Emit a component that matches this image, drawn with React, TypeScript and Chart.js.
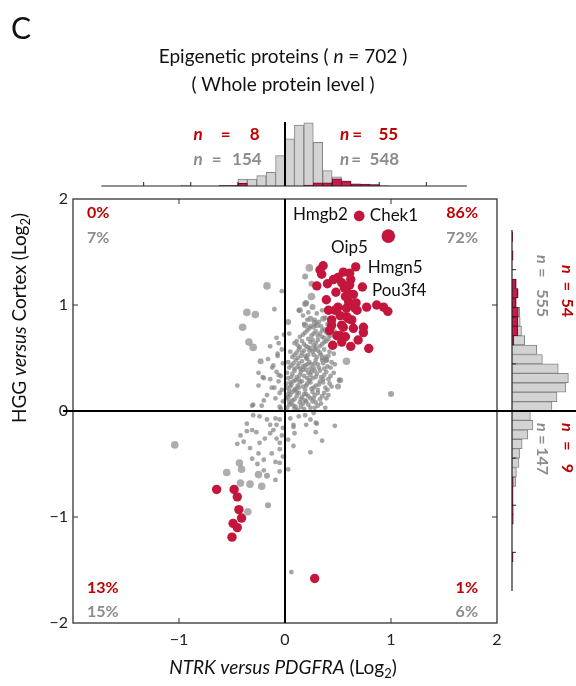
import React, { useEffect, useRef } from 'react';
import { Chart, registerables } from 'chart.js';
Chart.register(...registerables);

const FONT = 'Lato, "Open Sans", "DejaVu Sans", sans-serif';
const RED = '#c4153c';
const RED_TEXT = '#c00000';
const GRAY_TEXT = '#8c8c8c';
const GRAY_PT = 'rgba(128,128,128,0.7)';

// ---- axis ----
const axisMin = -2;
const axisMax = 2;

// ---- scatter data (log2 ratios) ----
const redUpper: [number, number][] = [
  [0.36, 1.37], [0.667, 1.36], [0.346, 1.29], [0.55, 1.31], [0.5, 1.26], [0.456, 1.24], [0.62, 1.24],
  [0.535, 1.21], [0.61, 1.19], [0.3, 1.18], [0.73, 1.17], [0.57, 1.08], [0.645, 1.1], [0.39, 1.05],
  [0.6, 1.03], [0.865, 1.0], [0.93, 0.98], [0.97, 0.94], [0.77, 0.98], [0.66, 0.97], [0.5, 0.98],
  [0.41, 0.95], [0.58, 0.89], [0.63, 0.86], [0.44, 0.81], [0.535, 0.81], [0.645, 0.78], [0.74, 0.74],
  [0.49, 0.71], [0.57, 0.7], [0.535, 0.65], [0.62, 0.61], [0.79, 0.59], [0.61, 1.3], [0.6, 1.11],
  [0.58, 0.97], [0.47, 0.95], [0.68, 0.95], [0.44, 0.86], [0.6, 0.87], [0.55, 0.79], [0.74, 0.79],
  [0.42, 0.76], [0.52, 0.71], [0.48, 1.12], [0.67, 1.02], [0.52, 0.9], [0.69, 0.67], [0.45, 0.62],
  [0.4, 1.2], [0.33, 1.33], [0.56, 1.16],
];
const redLower: [number, number][] = [
  [-0.645, -0.74], [-0.48, -0.74], [-0.45, -0.81], [-0.435, -0.93], [-0.41, -1.01], [-0.49, -1.06],
  [-0.45, -1.1], [-0.5, -1.19], [0.28, -1.58],
];
const geneNames = ['Hmgb2', 'Chek1'];
const genePoints: [number, number][] = [[0.7, 1.84], [0.975, 1.65]];

const grayLarge: [number, number][] = [
  [0.23, 1.35], [-0.17, 1.18], [0.25, 1.08], [-0.36, 0.93], [-0.28, 0.91], [-0.4, 0.79], [-0.34, 0.65],
  [-0.3, 0.6], [0.58, 0.47], [-1.04, -0.32], [-0.55, -0.58], [-0.35, -0.95], [-0.41, -0.55],
  [-0.42, -0.68], [-0.22, -0.71], [-0.25, -0.6], [-0.43, -0.49], [-0.33, -0.69],
];
const grayMedium: [number, number][] = [
  [0.19, 1.27], [0.25, 1.2], [0.19, 1.01], [0.26, 0.98], [-0.23, 0.47], [0.03, 0.84], [0.19, 0.81],
  [0.28, 0.83], [0.36, 0.87], [0.24, 0.87], [1.0, 0.16], [-0.16, -0.89], [-0.17, -0.61], [0.52, 0.29],
  [0.39, 0.48], [0.2, 1.02], [0.14, 0.95], [0.3, 0.81], [0.5, 0.23],
];
const graySmall: [number, number][] = [
  [-0.03, 1.13], [-0.1, 0.96], [0.13, 0.95], [-0.08, 0.69], [-0.14, 0.61], [-0.07, 0.54], [-0.16, 0.49],
  [-0.11, 0.43], [-0.25, 0.36], [-0.21, 0.32], [-0.45, 0.24], [-0.07, 0.52], [-0.12, 0.41], [-0.2, 0.31],
  [-0.14, 0.3], [-0.06, 0.34], [-0.25, 0.24], [-0.125, 0.22], [-0.06, 0.28], [-0.17, 0.15], [-0.2, 0.1],
  [-0.31, 0.05], [-0.22, 0.05], [-0.09, 0.12], [-0.05, 0.17], [-0.05, 0.04], [-0.02, 0.09], [0.04, 0.73],
  [0.11, 0.66], [0.51, 0.29], [0.38, 0.03], [0.28, 0.03], [0.41, 0.15], [-0.3, 0.06], [0.47, -0.14],
  [0.35, -0.28], [0.24, -0.39], [0.29, -0.2], [0.3, -0.12], [0.2, -0.13], [0.09, -0.21], [0.08, -0.33],
  [0.03, -0.55], [-0.05, -0.3], [-0.05, -0.36], [-0.09, -0.48], [-0.05, -0.57], [-0.09, -0.65],
  [-0.45, -0.31], [-0.39, -0.29], [-0.42, -0.23], [-0.36, -0.19], [-0.31, -0.18], [-0.27, -0.2],
  [-0.33, -0.35], [-0.24, -0.3], [-0.19, -0.26], [-0.14, -0.21], [-0.11, -0.18], [-0.14, -0.13],
  [-0.08, -0.13], [-0.05, -0.08], [-0.09, -0.07], [-0.17, -0.08], [-0.24, -0.05], [-0.3, -0.04],
  [-0.36, -0.12], [-0.31, -0.45], [-0.25, -0.4], [-0.2, -0.46], [-0.125, -0.4], [-0.08, -0.26],
  [-0.03, -0.23], [-0.02, -0.16], [0.13, -0.05], [0.19, -0.04], [0.27, -0.02], [0.05, -0.07],
  [0.08, -0.13], [0.03, -0.27], [-0.26, -0.5], [-0.2, -0.56], [-0.05, -0.49], [-0.02, -0.43],
  [0.06, -1.52], [0.24, -0.08], [0.08, -0.15], [0.29, -0.11],
  // dense core
  [0.02, 0.03], [0.06, 0.07], [0.1, 0.04], [0.14, 0.08], [0.18, 0.02], [0.22, 0.06], [0.26, 0.09],
  [0.31, 0.05], [0.04, 0.09], [0.12, 0.01], [0.08, 0.05], [0.17, 0.07],
  [0.01, 0.12], [0.05, 0.15], [0.09, 0.11], [0.13, 0.17], [0.16, 0.13], [0.2, 0.16], [0.24, 0.12],
  [0.28, 0.15], [0.33, 0.11], [0.37, 0.17], [0.07, 0.18], [0.11, 0.14], [0.19, 0.1], [0.26, 0.18],
  [0.03, 0.16],
  [0.02, 0.22], [0.06, 0.25], [0.1, 0.21], [0.14, 0.27], [0.17, 0.23], [0.21, 0.26], [0.25, 0.21],
  [0.29, 0.24], [0.33, 0.28], [0.38, 0.22], [0.42, 0.26], [0.08, 0.28], [0.12, 0.24], [0.19, 0.2],
  [0.23, 0.29], [0.31, 0.2], [0.04, 0.19],
  [0.03, 0.31], [0.07, 0.35], [0.11, 0.32], [0.15, 0.37], [0.18, 0.33], [0.22, 0.36], [0.26, 0.31],
  [0.3, 0.35], [0.34, 0.32], [0.39, 0.37], [0.43, 0.33], [0.09, 0.38], [0.13, 0.3], [0.2, 0.39],
  [0.28, 0.38], [0.36, 0.3], [0.05, 0.27], [0.24, 0.34],
  [0.04, 0.41], [0.08, 0.45], [0.12, 0.42], [0.16, 0.47], [0.19, 0.43], [0.23, 0.46], [0.27, 0.41],
  [0.31, 0.44], [0.35, 0.48], [0.4, 0.42], [0.44, 0.46], [0.14, 0.4], [0.21, 0.49], [0.29, 0.48],
  [0.37, 0.4], [0.1, 0.48], [0.25, 0.44],
  [0.07, 0.51], [0.11, 0.55], [0.15, 0.52], [0.18, 0.57], [0.22, 0.53], [0.26, 0.56], [0.3, 0.51],
  [0.33, 0.55], [0.37, 0.58], [0.41, 0.52], [0.2, 0.5], [0.28, 0.58], [0.35, 0.5], [0.13, 0.58],
  [0.24, 0.59],
  [0.12, 0.62], [0.16, 0.66], [0.2, 0.61], [0.24, 0.65], [0.27, 0.62], [0.31, 0.67], [0.35, 0.63],
  [0.39, 0.66], [0.43, 0.61], [0.22, 0.68], [0.29, 0.6], [0.37, 0.69],
  [0.17, 0.72], [0.21, 0.76], [0.25, 0.71], [0.29, 0.75], [0.33, 0.73], [0.37, 0.77], [0.41, 0.72],
  [0.27, 0.79], [0.35, 0.7], [0.44, 0.78], [0.32, 0.84], [0.38, 0.88], [0.21, 0.86], [0.42, 0.85],
  [0.04, 0.06], [0.09, 0.02], [0.15, 0.04], [0.2, 0.09], [0.24, 0.03], [0.29, 0.08], [0.34, 0.07],
  [0.03, 0.13], [0.07, 0.1], [0.11, 0.18], [0.15, 0.11], [0.18, 0.16], [0.22, 0.14], [0.27, 0.12],
  [0.31, 0.17], [0.35, 0.14], [0.39, 0.12],
  [0.01, 0.26], [0.05, 0.23], [0.09, 0.2], [0.13, 0.22], [0.16, 0.28], [0.2, 0.24], [0.24, 0.27],
  [0.27, 0.22], [0.32, 0.25], [0.36, 0.27], [0.4, 0.2], [0.44, 0.23],
  [0.02, 0.36], [0.06, 0.32], [0.1, 0.29], [0.14, 0.34], [0.17, 0.39], [0.21, 0.31], [0.25, 0.37],
  [0.29, 0.32], [0.33, 0.38], [0.37, 0.34], [0.41, 0.3], [0.46, 0.36],
  [0.03, 0.46], [0.06, 0.43], [0.09, 0.4], [0.13, 0.45], [0.17, 0.42], [0.21, 0.44], [0.24, 0.4],
  [0.28, 0.45], [0.32, 0.41], [0.36, 0.45], [0.39, 0.48], [0.43, 0.41], [0.47, 0.44],
  [0.05, 0.56], [0.09, 0.53], [0.12, 0.5], [0.16, 0.55], [0.19, 0.52], [0.23, 0.57], [0.27, 0.53],
  [0.31, 0.57], [0.34, 0.53], [0.38, 0.51], [0.42, 0.56], [0.46, 0.54],
  [0.09, 0.64], [0.14, 0.6], [0.18, 0.63], [0.22, 0.6], [0.26, 0.67], [0.29, 0.64], [0.33, 0.61],
  [0.37, 0.65], [0.41, 0.68], [0.45, 0.64],
  [0.14, 0.7], [0.19, 0.74], [0.23, 0.78], [0.27, 0.73], [0.31, 0.71], [0.35, 0.76], [0.39, 0.74],
  [0.43, 0.71], [0.47, 0.75],
  [0.18, 0.82], [0.24, 0.8], [0.28, 0.86], [0.34, 0.8], [0.4, 0.82], [0.46, 0.81], [0.3, 0.92],
  [0.22, 0.93], [0.17, 0.9], [0.35, 0.95],
  [-0.03, 0.2], [-0.04, 0.33], [-0.02, 0.45], [-0.03, 0.58], [-0.06, 0.64], [-0.01, 0.72],
  [-0.04, 0.02], [-0.1, 0.22], [-0.08, 0.37],
];

// ---- marginal histograms (bin centres, width 0.1) ----
const topBins = [-1.05, -0.95, -0.85, -0.75, -0.65, -0.55, -0.45, -0.35, -0.25, -0.15, -0.05,
  0.05, 0.15, 0.25, 0.35, 0.45, 0.55, 0.65, 0.75, 0.85, 0.95, 1.05];
const topGray = [2, 0, 0, 0, 1, 1, 15, 15, 23, 30, 67, 104, 134, 139, 96, 34, 20, 11, 4, 2, 3, 1];
const topRed = [0, 0, 0, 0, 1, 1, 6, 0, 0, 0, 0, 0, 0, 2, 7, 7, 16, 11, 5, 4, 3, 0];

const rightBins = [-1.55, -1.45, -1.35, -1.25, -1.15, -1.05, -0.95, -0.85, -0.75, -0.65, -0.55, -0.45,
  -0.35, -0.25, -0.15, -0.05, 0.05, 0.15, 0.25, 0.35, 0.45, 0.55, 0.65, 0.75, 0.85, 0.95, 1.05, 1.15,
  1.25, 1.35, 1.45, 1.55, 1.65, 1.75, 1.85];
const rightGray = [2, 0, 0, 0, 1, 1, 2, 2, 6, 7, 11, 12, 16, 25, 33, 29, 63, 71, 85, 89, 73, 48, 39,
  20, 15, 13, 12, 7, 10, 7, 0, 0, 2, 0, 1];
const rightRed = [1, 0, 0, 0, 2, 2, 1, 1, 2, 0, 0, 0, 0, 0, 0, 0, 0, 0, 0, 0, 0, 0, 0, 3, 9, 9, 10,
  6, 9, 6, 0, 0, 1, 0, 1];

const quadRed = ['0%', '86%', '13%', '1%'];
const quadGray = ['7%', '72%', '15%', '6%'];
const topN = { leftRed: '8', leftGray: '154', rightRed: '55', rightGray: '548' };
const sideN = { upRed: '54', upGray: '555', downRed: '9', downGray: '147' };
const labelGenes = [
  { name: 'Hmgb2', x: 0.594, y: 1.85, align: 'right' },
  { name: 'Chek1', x: 0.8, y: 1.845, align: 'left' },
  { name: 'Oip5', x: 0.434, y: 1.54, align: 'left' },
  { name: 'Hmgn5', x: 0.78, y: 1.35, align: 'left' },
  { name: 'Pou3f4', x: 0.82, y: 1.14, align: 'left' },
];

// ---- helpers ----
type Part = { t: string; i?: boolean; b?: boolean; sub?: boolean };
function fontOf(p: Part, size: number) {
  const s = p.sub ? Math.round(size * 0.66) : size;
  return `${p.i ? 'italic ' : ''}${p.b ? 'bold ' : ''}${s}px ${FONT}`;
}
function drawRich(ctx: CanvasRenderingContext2D, parts: Part[], x: number, y: number, size: number,
  color: string, align: 'left' | 'center' | 'right' = 'left', angle = 0) {
  ctx.save();
  ctx.translate(x, y);
  ctx.rotate(angle);
  let w = 0;
  for (const p of parts) { ctx.font = fontOf(p, size); w += ctx.measureText(p.t).width; }
  let cx = align === 'left' ? 0 : align === 'center' ? -w / 2 : -w;
  ctx.fillStyle = color;
  ctx.textBaseline = 'middle';
  ctx.textAlign = 'left';
  for (const p of parts) {
    ctx.font = fontOf(p, size);
    ctx.fillText(p.t, cx, p.sub ? size * 0.32 : 0);
    cx += ctx.measureText(p.t).width;
  }
  ctx.restore();
}
// "n = N" label: n starts at 0, "=" centred at eq, number ends at end (local frame)
function drawN(ctx: CanvasRenderingContext2D, ox: number, oy: number, angle: number, eq: number,
  end: number, num: string, color: string, size = 17) {
  ctx.save();
  ctx.translate(ox, oy);
  ctx.rotate(angle);
  ctx.fillStyle = color;
  ctx.textBaseline = 'middle';
  ctx.font = `italic bold ${size}px ${FONT}`;
  ctx.textAlign = 'left';
  ctx.fillText('n', 0, 0);
  ctx.font = `bold ${size}px ${FONT}`;
  ctx.textAlign = 'center';
  ctx.fillText('=', eq, 0);
  ctx.textAlign = 'right';
  ctx.fillText(num, end, 0);
  ctx.restore();
}
function seg(ctx: CanvasRenderingContext2D, x1: number, y1: number, x2: number, y2: number) {
  ctx.beginPath(); ctx.moveTo(x1, y1); ctx.lineTo(x2, y2); ctx.stroke();
}
const xy = (a: [number, number][]) => a.map(([x, y]) => ({ x, y }));
const fmt = (v: number) => (v < 0 ? '\u2212' + Math.abs(v) : String(v));
const nz = (a: number[]) => a.map((v) => (v === 0 ? null : v));

const mainDecor = {
  id: 'mainDecor',
  afterDatasetsDraw(chart: any) {
    const { ctx, chartArea: a, scales } = chart;
    const sx = scales.x, sy = scales.y;
    ctx.save();
    ctx.strokeStyle = '#333';
    ctx.lineWidth = 1.3;
    ctx.strokeRect(a.left, a.top, a.right - a.left, a.bottom - a.top);
    ctx.lineWidth = 1;
    for (const v of [-1, 1]) {
      const px = sx.getPixelForValue(v);
      seg(ctx, px, a.top, px, a.top + 5);
      seg(ctx, px, a.bottom, px, a.bottom - 5);
      const py = sy.getPixelForValue(v);
      seg(ctx, a.left, py, a.left + 5, py);
      seg(ctx, a.right, py, a.right - 5, py);
    }
    ctx.strokeStyle = '#000';
    ctx.lineWidth = 2;
    const x0 = sx.getPixelForValue(0), y0 = sy.getPixelForValue(0);
    seg(ctx, x0, a.top, x0, a.bottom);
    seg(ctx, a.left - 10, y0, chart.width, y0);
    ctx.restore();
  },
  afterDraw(chart: any) {
    const { ctx, chartArea: a, scales } = chart;
    const sx = scales.x, sy = scales.y;
    // quadrant percentages
    const L = a.left + 14, R = a.right - 19;
    const T1 = a.top + 14, T2 = a.top + 39, B1 = a.bottom - 35, B2 = a.bottom - 11;
    drawRich(ctx, [{ t: quadRed[0], b: true }], L, T1, 16, RED_TEXT, 'left');
    drawRich(ctx, [{ t: quadGray[0], b: true }], L, T2, 16, GRAY_TEXT, 'left');
    drawRich(ctx, [{ t: quadRed[1], b: true }], R, T1, 16, RED_TEXT, 'right');
    drawRich(ctx, [{ t: quadGray[1], b: true }], R, T2, 16, GRAY_TEXT, 'right');
    drawRich(ctx, [{ t: quadRed[2], b: true }], L, B1, 16, RED_TEXT, 'left');
    drawRich(ctx, [{ t: quadGray[2], b: true }], L, B2, 16, GRAY_TEXT, 'left');
    drawRich(ctx, [{ t: quadRed[3], b: true }], R, B1, 16, RED_TEXT, 'right');
    drawRich(ctx, [{ t: quadGray[3], b: true }], R, B2, 16, GRAY_TEXT, 'right');
    // gene labels
    for (const g of labelGenes) {
      drawRich(ctx, [{ t: g.name }], sx.getPixelForValue(g.x), sy.getPixelForValue(g.y), 17, '#111',
        g.align as any);
    }
    // titles
    const cx = (a.left + a.right) / 2 - 2;
    drawRich(ctx, [{ t: 'C' }], 11, 29, 30, '#111', 'left');
    drawRich(ctx, [{ t: 'Epigenetic proteins ( ' }, { t: 'n', i: true }, { t: ' = 702 )' }], cx, 57, 19, '#111', 'center');
    drawRich(ctx, [{ t: '( Whole protein level )' }], cx, 85, 19, '#111', 'center');
    drawRich(ctx, [{ t: 'NTRK versus PDGFRA', i: true }, { t: ' (Log' }, { t: '2', sub: true }, { t: ')' }],
      cx, 668, 19, '#111', 'center');
    drawRich(ctx, [{ t: 'HGG ' }, { t: 'versus', i: true }, { t: ' Cortex (Log' }, { t: '2', sub: true }, { t: ')' }],
      20, 318, 19, '#111', 'center', -Math.PI / 2);
  },
};

const topDecor = {
  id: 'topDecor',
  afterDatasetsDraw(chart: any) {
    const { ctx, chartArea: a, scales } = chart;
    const sx = scales.x;
    ctx.save();
    ctx.strokeStyle = '#222';
    ctx.lineWidth = 1.2;
    seg(ctx, sx.getPixelForValue(-1.95), a.bottom, sx.getPixelForValue(1.93), a.bottom);
    ctx.lineWidth = 1;
    for (const v of [-1.5, -1, -0.5, 0.5, 1, 1.5]) {
      const px = sx.getPixelForValue(v);
      seg(ctx, px, a.bottom, px, a.bottom - 4);
    }
    ctx.strokeStyle = '#000';
    ctx.lineWidth = 2;
    const x0 = sx.getPixelForValue(0);
    seg(ctx, x0, a.top, x0, a.bottom);
    ctx.restore();
    const lx = sx.getPixelForValue(-0.97), rx = sx.getPixelForValue(0.585);
    drawN(ctx, lx, 25, 0, 32, 66, topN.leftRed, RED_TEXT);
    drawN(ctx, lx, 50, 0, 23, 68, topN.leftGray, GRAY_TEXT);
    drawN(ctx, rx, 25, 0, 17, 58, topN.rightRed, RED_TEXT);
    drawN(ctx, rx, 50, 0, 16, 59, topN.rightGray, GRAY_TEXT);
  },
};

const rightDecor = {
  id: 'rightDecor',
  afterDatasetsDraw(chart: any) {
    const { ctx, chartArea: a, scales } = chart;
    const sy = scales.y;
    ctx.save();
    ctx.strokeStyle = '#222';
    ctx.lineWidth = 1.2;
    seg(ctx, a.left, sy.getPixelForValue(1.92), a.left, sy.getPixelForValue(-1.91));
    ctx.lineWidth = 1;
    for (const v of [-1.5, -1, -0.5, 0.5, 1, 1.5]) {
      const py = sy.getPixelForValue(v);
      seg(ctx, a.left, py, a.left + 4, py);
    }
    ctx.strokeStyle = '#000';
    ctx.lineWidth = 2;
    const y0 = sy.getPixelForValue(0);
    seg(ctx, 0, y0, chart.width, y0);
    ctx.restore();
    const rot = Math.PI / 2;
    drawN(ctx, 70, y0 - 146, rot, 21.5, 52, sideN.upRed, RED_TEXT, 16);
    drawN(ctx, 45, y0 - 156, rot, 18, 62, sideN.upGray, GRAY_TEXT, 16);
    drawN(ctx, 70, y0 + 12, rot, 23, 50, sideN.downRed, RED_TEXT, 16);
    drawN(ctx, 45, y0 + 12, rot, 17, 52, sideN.downGray, GRAY_TEXT, 16);
  },
};

const hidden = { legend: { display: false }, tooltip: { enabled: false } };

export default function App() {
  const mainRef = useRef<HTMLCanvasElement>(null);
  const topRef = useRef<HTMLCanvasElement>(null);
  const rightRef = useRef<HTMLCanvasElement>(null);

  useEffect(() => {
    const charts: Chart[] = [];
    const tickFont = { family: FONT, size: 16 };
    charts.push(new Chart(mainRef.current!, {
      type: 'scatter',
      data: {
        datasets: [
          { data: xy(genePoints), backgroundColor: RED, borderWidth: 0, pointRadius: [5.4, 6.8] as any },
          { data: xy(redUpper), backgroundColor: RED, borderWidth: 0, pointRadius: 4.7 },
          { data: xy(redLower), backgroundColor: RED, borderWidth: 0, pointRadius: 4.7 },
          { data: xy(graySmall), backgroundColor: GRAY_PT, borderWidth: 0, pointRadius: 2.4 },
          { data: xy(grayMedium), backgroundColor: GRAY_PT, borderWidth: 0, pointRadius: 3 },
          { data: xy(grayLarge), backgroundColor: 'rgba(150,150,150,0.78)', borderWidth: 0, pointRadius: 3.8 },
        ],
      },
      options: {
        animation: false,
        responsive: false,
        layout: { padding: { top: 199, right: 79, left: 0, bottom: 0 } },
        plugins: hidden as any,
        scales: {
          x: {
            type: 'linear', min: axisMin, max: axisMax,
            grid: { display: false, drawTicks: false }, border: { display: false },
            ticks: { stepSize: 1, padding: 7, font: tickFont, color: '#222',
              callback: (v: any) => (v === axisMin ? '' : fmt(v)) },
            afterFit: (s: any) => { s.height = 63; },
          },
          y: {
            type: 'linear', min: axisMin, max: axisMax,
            grid: { display: false, drawTicks: false }, border: { display: false },
            ticks: { stepSize: 1, padding: 5, font: tickFont, color: '#222', callback: (v: any) => fmt(v) },
            afterFit: (s: any) => { s.width = 73; },
          },
        },
      },
      plugins: [mainDecor],
    } as any));

    const barCommon = { grouped: false, barPercentage: 1, categoryPercentage: 1, borderWidth: 1 };
    charts.push(new Chart(topRef.current!, {
      type: 'bar',
      data: {
        datasets: [
          { ...barCommon, data: topBins.map((b, i) => ({ x: b, y: nz(topRed)[i] })), backgroundColor: '#c8194a', borderColor: '#6d1026' },
          { ...barCommon, data: topBins.map((b, i) => ({ x: b, y: nz(topGray)[i] })), backgroundColor: '#d3d3d3', borderColor: '#858585' },
        ],
      },
      options: {
        animation: false, responsive: false,
        layout: { padding: { left: 73, right: 79, top: 12, bottom: 4 } },
        plugins: hidden as any,
        scales: {
          x: { type: 'linear', min: axisMin, max: axisMax, display: false },
          y: { min: 0, max: 141, display: false },
        },
      },
      plugins: [topDecor],
    } as any));

    charts.push(new Chart(rightRef.current!, {
      type: 'bar',
      data: {
        datasets: [
          { ...barCommon, data: rightBins.map((b, i) => ({ y: b, x: nz(rightRed)[i] })), backgroundColor: '#c8194a', borderColor: '#6d1026' },
          { ...barCommon, data: rightBins.map((b, i) => ({ y: b, x: nz(rightGray)[i] })), backgroundColor: '#d3d3d3', borderColor: '#858585' },
        ],
      },
      options: {
        indexAxis: 'y',
        animation: false, responsive: false,
        layout: { padding: { left: 15, right: 0, top: 9, bottom: 7 } },
        plugins: hidden as any,
        scales: {
          y: { type: 'linear', min: axisMin, max: axisMax, display: false },
          x: { min: 0, max: 101, display: false },
        },
      },
      plugins: [rightDecor],
    } as any));

    return () => charts.forEach((c) => c.destroy());
  }, []);

  return (
    <div style={{ position: 'absolute', left: 0, top: 0, width: 576, height: 686, background: '#fff' }}>
      <canvas ref={mainRef} width={576} height={686} style={{ position: 'absolute', left: 0, top: 0 }} />
      <canvas ref={topRef} width={576} height={80} style={{ position: 'absolute', left: 0, top: 110 }} />
      <canvas ref={rightRef} width={79} height={440} style={{ position: 'absolute', left: 497, top: 190 }} />
    </div>
  );
}
